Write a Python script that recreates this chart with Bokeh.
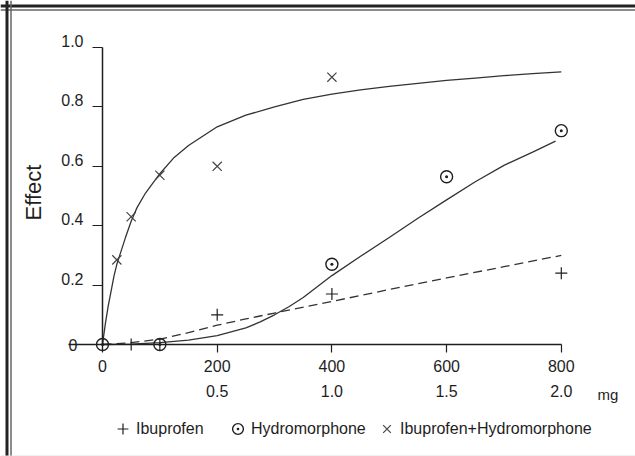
import math
from bokeh.plotting import figure
from bokeh.models import (Range1d, LinearAxis, FixedTicker, Label, Legend,
                          LegendItem, Span, InlineStyleSheet)
from bokeh.embed import file_html
from bokeh.resources import INLINE

# ---------------- data ----------------
# measured points
ibu_x = [0, 50, 100, 200, 400, 800]
ibu_y = [0.0, 0.0, 0.0, 0.10, 0.17, 0.24]

hydro_x = [0, 100, 400, 600, 800]
hydro_y = [0.0, 0.0, 0.27, 0.565, 0.72]

comb_x = [25, 50, 100, 200, 400]
comb_y = [0.285, 0.43, 0.57, 0.60, 0.90]

# fitted curves
comb_curve_x = [0, 5, 10, 15, 20, 25, 30, 40, 50, 60, 75, 100, 125, 150, 200,
                250, 300, 350, 400, 450, 500, 550, 600, 650, 700, 750, 800]
comb_curve_y = [0.0, 0.07, 0.13, 0.18, 0.23, 0.27, 0.30, 0.36, 0.415, 0.46,
                0.51, 0.575, 0.63, 0.67, 0.733, 0.772, 0.80, 0.825, 0.843,
                0.857, 0.869, 0.879, 0.889, 0.897, 0.905, 0.912, 0.918]

hydro_curve_x = [0, 50, 100, 150, 200, 250, 275, 300, 325, 350, 375, 400,
                 450, 500, 550, 600, 650, 700, 750, 790]
hydro_curve_y = [0.0, 0.001, 0.006, 0.015, 0.03, 0.056, 0.076, 0.10, 0.127,
                 0.158, 0.195, 0.232, 0.297, 0.36, 0.425, 0.487, 0.548,
                 0.603, 0.648, 0.685]

ibu_curve_x = [0, 50, 100, 150, 200, 250, 300, 400, 500, 600, 700, 800]
ibu_curve_y = [0.0, 0.006, 0.018, 0.04, 0.065, 0.086, 0.106, 0.145, 0.185,
               0.224, 0.262, 0.30]

x_ticks = [0, 200, 400, 600, 800]
x_labels = ["0", "200", "400", "600", "800"]
x2_ticks = [200, 400, 600, 800]
x2_labels = ["0.5", "1.0", "1.5", "2.0"]
y_ticks = [0.2, 0.4, 0.6, 0.8, 1.0]
y_labels = ["0.2", "0.4", "0.6", "0.8", "1.0"]

series_names = ["Ibuprofen", "Hydromorphone", "Ibuprofen+Hydromorphone"]

# ---------------- styling ----------------
FONT = "Liberation Sans"
INK = "#1e1e1e"
LINE = "#333333"

W, H = 635, 456
OX, OY = 102.0, 344.0        # pixel position of the data origin
KX, KY = 0.5735, 297.0       # pixels per data unit
X0, X1 = -OX / KX, (W - OX) / KX
Y0, Y1 = (OY - H) / KY, OY / KY
LABEL_RAISE = 0.022   # y tick labels sit slightly above their ticks

p = figure(width=W, height=H, x_range=Range1d(X0, X1), y_range=Range1d(Y0, Y1),
           x_axis_location=None, y_axis_location=None,
           toolbar_location=None, output_backend="svg", min_border=0)
p.min_border_left = p.min_border_right = 0
p.min_border_top = p.min_border_bottom = 0
p.outline_line_color = None
p.background_fill_color = "white"
p.border_fill_color = "white"
p.stylesheets = [InlineStyleSheet(
    css=":host, :host *, * { outline: none !important; border: none !important; }")]
for g in p.grid:
    g.visible = False


def sx_to_data(px):
    return X0 + px / W * (X1 - X0)


def sy_to_data(py):
    return Y1 - py / H * (Y1 - Y0)


# double frame of the original picture (top and left), faint bottom edge
p.add_layout(Span(location=sy_to_data(5.5), dimension="width",
                  line_color="#222222", line_width=3))
p.add_layout(Span(location=sy_to_data(9.5), dimension="width",
                  line_color="#666666", line_width=1.5))
p.add_layout(Span(location=sx_to_data(6.5), dimension="height",
                  line_color="#222222", line_width=3))
p.add_layout(Span(location=sx_to_data(10.5), dimension="height",
                  line_color="#666666", line_width=1.5))
p.add_layout(Span(location=sy_to_data(455.5), dimension="width",
                  line_color="#e0e0e0", line_width=1))

# ---------------- axes ----------------
xax = LinearAxis(fixed_location=0, ticker=FixedTicker(ticks=x_ticks),
                 bounds=(-59, 800))
xax.major_label_overrides = {t: s for t, s in zip(x_ticks, x_labels)}
xax.axis_line_color = INK
xax.axis_line_width = 1.5
xax.major_tick_line_color = INK
xax.major_tick_line_width = 1.2
xax.major_tick_in = 0
xax.major_tick_out = 8
xax.minor_tick_in = 0
xax.minor_tick_out = 0
xax.major_label_standoff = 7
xax.major_label_text_font = FONT
xax.major_label_text_font_size = "16px"
xax.major_label_text_color = INK
p.add_layout(xax, "below")

xax2 = LinearAxis(fixed_location=0, ticker=FixedTicker(ticks=x2_ticks),
                  bounds=(-59, 800))
xax2.major_label_overrides = {t: s for t, s in zip(x2_ticks, x2_labels)}
xax2.axis_line_color = None
xax2.major_tick_line_color = None
xax2.minor_tick_line_color = None
xax2.major_tick_in = 0
xax2.major_tick_out = 0
xax2.minor_tick_in = 0
xax2.minor_tick_out = 0
xax2.major_label_standoff = 40
xax2.major_label_text_font = FONT
xax2.major_label_text_font_size = "16px"
xax2.major_label_text_color = INK
p.add_layout(xax2, "below")

# y axis: line and ticks
yax = LinearAxis(fixed_location=0, ticker=FixedTicker(ticks=y_ticks),
                 bounds=(0, 1))
yax.major_label_text_font_size = "0px"
yax.major_label_text_alpha = 0
yax.axis_line_color = INK
yax.axis_line_width = 1.5
yax.major_tick_line_color = INK
yax.major_tick_line_width = 1.2
yax.major_tick_in = 0
yax.major_tick_out = 10
yax.minor_tick_in = 0
yax.minor_tick_out = 0
p.add_layout(yax, "left")

# y axis: tick labels (raised a little above their ticks, as in the original)
y_label_pos = [t + LABEL_RAISE for t in y_ticks]
yax2 = LinearAxis(fixed_location=0, ticker=FixedTicker(ticks=y_label_pos),
                  bounds=(0, 1))
yax2.major_label_overrides = {t: s for t, s in zip(y_label_pos, y_labels)}
yax2.axis_line_color = None
yax2.major_tick_line_color = None
yax2.minor_tick_line_color = None
yax2.major_tick_in = 0
yax2.major_tick_out = 10
yax2.minor_tick_in = 0
yax2.minor_tick_out = 0
yax2.major_label_standoff = 9
yax2.major_label_text_font = FONT
yax2.major_label_text_font_size = "16px"
yax2.major_label_text_color = INK
p.add_layout(yax2, "left")

# ---------------- curves ----------------
p.line(comb_curve_x, comb_curve_y, line_color=LINE, line_width=1.3)
p.line(hydro_curve_x, hydro_curve_y, line_color=LINE, line_width=1.3)
p.line(ibu_curve_x, ibu_curve_y, line_color=LINE, line_width=1.3,
       line_dash="9 5")

# ---------------- points ----------------
r_ibu = p.scatter(ibu_x, ibu_y, marker="cross", size=12, line_color=INK,
                  line_width=1.2)
r_hyd = p.scatter(hydro_x, hydro_y, marker="circle_dot", size=12,
                  line_color=INK, fill_color=None, line_width=1.4)
r_comb = p.scatter(comb_x, comb_y, marker="x", size=13, line_color="#444444",
                   line_width=1.2)

# ---------------- texts ----------------
p.add_layout(Label(x=33, y=H - 192, x_units="screen", y_units="screen",
                   text="Effect", angle=math.pi / 2, text_align="center",
                   text_baseline="middle", text_font=FONT,
                   text_font_size="22px", text_color=INK))
p.add_layout(Label(x=597, y=H - 394, x_units="screen", y_units="screen",
                   text="mg", text_align="left", text_baseline="alphabetic",
                   text_font=FONT, text_font_size="15px", text_color=INK))
p.add_layout(Label(x=68, y=H - 344, x_units="screen", y_units="screen",
                   text="0", text_align="left", text_baseline="alphabetic",
                   text_font=FONT, text_font_size="16px", text_color=INK))

# ---------------- legend (three single-item legends) ----------------
for name, r, lx, so in zip(series_names, [r_ibu, r_hyd, r_comb],
                           [109, 224, 373], [-6, -9, -8]):
    leg = Legend(items=[LegendItem(label=name, renderers=[r])],
                 location=(lx, H - 442), orientation="horizontal",
                 glyph_width=27, glyph_height=27, label_height=27,
                 label_standoff=so, padding=0, margin=0, spacing=0,
                 border_line_color=None, background_fill_alpha=0,
                 label_text_font=FONT, label_text_font_size="16px",
                 label_text_color=INK)
    p.add_layout(leg)

open("out.html", "w").write(file_html(p, INLINE))
